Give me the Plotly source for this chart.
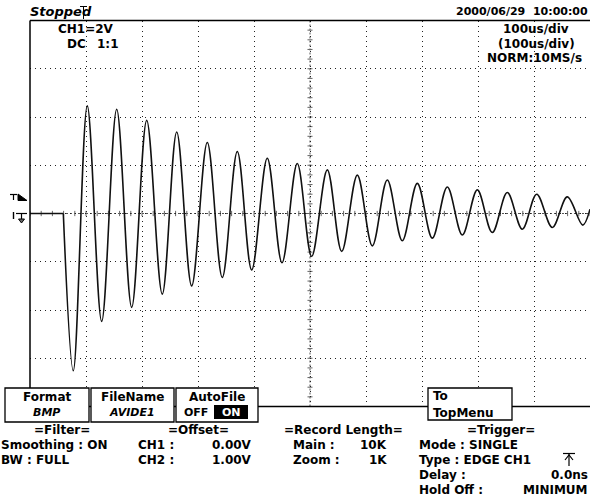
import plotly.graph_objects as go

W, H = 590, 501
FONT = "DejaVu Sans"

# ---- data (time in microseconds, voltage in volts) ----
pre_t = [-500.0, -440.5]
pre_v = [0.0, 0.0]
ring_t = [-440.5, -422.7, -397.7, -372.0, -345.2, -318.4, -291.6, -263.8, -238.0,
          -211.3, -183.4, -156.6, -129.8, -104.1, -76.3, -50.0, -22.7, 3.0, 30.9,
          56.6, 84.5, 111.3, 138.0, 164.8, 191.6, 218.4, 245.2, 272.0, 298.8,
          325.5, 352.3, 379.1, 404.8, 432.7, 459.5, 487.0, 500.0]
ring_v = [0.0, -6.52, 4.46, -4.47, 4.32, -3.89, 3.86, -3.34, 3.38,
          -3.00, 2.94, -2.65, 2.57, -2.34, 2.29, -2.04, 2.07, -1.78, 1.81,
          -1.57, 1.59, -1.34, 1.39, -1.13, 1.25, -1.02, 1.10, -0.89, 0.98,
          -0.79, 0.87, -0.65, 0.80, -0.58, 0.69, -0.48, 0.18]

x_range = [-500, 500]   # 100 us/div, 10 div
y_range = [-8, 8]       # 2 V/div, 8 div


def px(x):
    return x / W


def py(y):
    return 1 - y / H


fig = go.Figure()
fig.add_trace(go.Scatter(x=pre_t, y=pre_v, mode="lines",
                         line=dict(color="#111111", width=1.6), hoverinfo="skip"))
fig.add_trace(go.Scatter(x=ring_t, y=ring_v, mode="lines",
                         line=dict(color="#111111", width=1.6, shape="spline", smoothing=1.0),
                         hoverinfo="skip"))

shapes = []


def pline(x0, y0, x1, y1, width=1, color="black", dash=None, layer="above"):
    d = dict(type="line", xref="paper", yref="paper", x0=px(x0), y0=py(y0), x1=px(x1), y1=py(y1),
             line=dict(color=color, width=width), layer=layer)
    if dash:
        d["line"]["dash"] = dash
    shapes.append(d)


def prect(x0, y0, x1, y1, fill="white", lw=1.3, lc="black"):
    shapes.append(dict(type="rect", xref="paper", yref="paper", x0=px(x0), y0=py(y0), x1=px(x1), y1=py(y1),
                       fillcolor=fill, line=dict(color=lc, width=lw), layer="above"))


def ppath(pts, fill=None, width=1):
    p = "M " + " L ".join(f"{px(a)},{py(b)}" for a, b in pts)
    if fill:
        p += " Z"
    shapes.append(dict(type="path", xref="paper", yref="paper", path=p,
                       fillcolor=fill if fill else "rgba(0,0,0,0)",
                       line=dict(color="black", width=width), layer="above"))


# centre cross with fine ticks (graticule)
shapes.append(dict(type="line", xref="x", yref="y", x0=-500, x1=500, y0=0, y1=0,
                   line=dict(color="#555", width=1, dash="2px,2px"), layer="below"))
shapes.append(dict(type="line", xref="x", yref="y", x0=0, x1=0, y0=-8, y1=8,
                   line=dict(color="#555", width=1, dash="2px,2px"), layer="below"))
for i in range(-25, 26):
    t = i * 20
    shapes.append(dict(type="line", xref="x", yref="y", x0=t, x1=t, y0=-0.11, y1=0.11,
                       line=dict(color="#666", width=1), layer="below"))
for j in range(-20, 21):
    v = j * 0.4
    shapes.append(dict(type="line", xref="x", yref="y", x0=-4.5, x1=4.5, y0=v, y1=v,
                       line=dict(color="#666", width=1), layer="below"))

# frame lines
pline(30, 20.5, 590, 20.5, width=1.3)
pline(30, 20.5, 30, 406.5, width=1.5)
pline(30, 406.5, 590, 406.5, width=1.3)

# soft-key boxes
prect(5, 388, 89, 422)
prect(91, 388, 174, 422)
prect(176, 388, 258, 422)
prect(214, 405, 248, 419, fill="black", lw=0)
prect(428, 388, 512, 420)

# left markers: trigger level and ground
pline(10, 194.5, 17, 194.5, width=1.2)
pline(13.5, 194.5, 13.5, 200, width=1.2)
ppath([(18, 194), (27, 200.5), (18, 200.5)], fill="black")
pline(16, 213.5, 27, 213.5, width=1.2)
pline(21.5, 213.5, 21.5, 220, width=1.2)
ppath([(18.5, 219), (24.5, 219), (21.5, 223)], fill="#666")
pline(13.5, 212, 13.5, 219, width=1.4)

# trigger position marker at top
pline(80, 6.5, 87, 6.5, width=1)
pline(83.5, 6.5, 83.5, 19, width=1)

# edge trigger symbol
pline(563, 453.5, 575, 453.5, width=1.2)
pline(569, 453.5, 569, 466, width=1.2)
ppath([(565, 460), (569, 455), (573, 460)], width=1.2)

annotations = []


def ann(x, y, text, xanchor="left", size=12, color="black"):
    annotations.append(dict(xref="paper", yref="paper", x=px(x), y=py(y), text=text,
                            showarrow=False, xanchor=xanchor, yanchor="middle",
                            font=dict(family=FONT, size=size, color=color), borderpad=0))


B = lambda s: f"<b>{s}</b>"
BI = lambda s: f"<b><i>{s}</i></b>"

# header
ann(29, 12, BI("Stopped"), size=13)
ann(589, 12, B("2000/06/29  10:00:00"), xanchor="right", size=11)
ann(57, 29, B("CH1=2V"))
ann(66, 44, B("DC"))
ann(96, 44, B("1:1"))
ann(536, 29, B("100us/div"), xanchor="center")
ann(536, 44, B("(100us/div)"), xanchor="center")
ann(534, 58, B("NORM:10MS/s"), xanchor="center")

# soft keys
ann(47, 397, B("Format"), xanchor="center")
ann(47, 412, BI("BMP"), xanchor="center", size=11)
ann(132, 397, B("FileName"), xanchor="center")
ann(132, 412, BI("AVIDE1"), xanchor="center", size=11)
ann(217, 397, B("AutoFile"), xanchor="center")
ann(196, 412, B("OFF"), xanchor="center", size=11)
ann(231, 412, B("ON"), xanchor="center", size=11, color="white")
ann(432, 396, B("To"))
ann(432, 413, B("TopMenu"))

# status block
r = [430, 445, 460, 475, 490]
ann(62, r[0], B("=Filter="), xanchor="center")
ann(0, r[1], B("Smoothing : ON"))
ann(0, r[2], B("BW : FULL"))
ann(198, r[0], B("=Offset="), xanchor="center")
ann(137, r[1], B("CH1 :"))
ann(253, r[1], B("0.00V"), xanchor="right")
ann(137, r[2], B("CH2 :"))
ann(253, r[2], B("1.00V"), xanchor="right")
ann(343, r[0], B("=Record Length="), xanchor="center")
ann(292, r[1], B("Main :"))
ann(388, r[1], B("10K"), xanchor="right")
ann(292, r[2], B("Zoom :"))
ann(388, r[2], B("1K"), xanchor="right")
ann(501, r[0], B("=Trigger="), xanchor="center")
ann(418, r[1], B("Mode : SINGLE"))
ann(418, r[2], B("Type : EDGE CH1"))
ann(418, r[3], B("Delay :"))
ann(589, r[3], B("0.0ns"), xanchor="right")
ann(418, r[4], B("Hold Off :"))
ann(589, r[4], B("MINIMUM"), xanchor="right")

fig.update_layout(
    width=W, height=H,
    margin=dict(l=0, r=0, t=0, b=0),
    paper_bgcolor="white", plot_bgcolor="white",
    showlegend=False,
    shapes=shapes, annotations=annotations,
    xaxis=dict(domain=[30 / W, 1], range=x_range, dtick=100, tick0=0,
               showgrid=True, gridcolor="#222", griddash="1px,4px", gridwidth=1,
               zeroline=False, showticklabels=False, ticks="", showline=False, fixedrange=True),
    yaxis=dict(domain=[1 - 406.5 / H, 1 - 20.5 / H], range=y_range, dtick=2, tick0=0,
               showgrid=True, gridcolor="#222", griddash="1px,4px", gridwidth=1,
               zeroline=False, showticklabels=False, ticks="", showline=False, fixedrange=True),
)

fig.write_html("out.html")
